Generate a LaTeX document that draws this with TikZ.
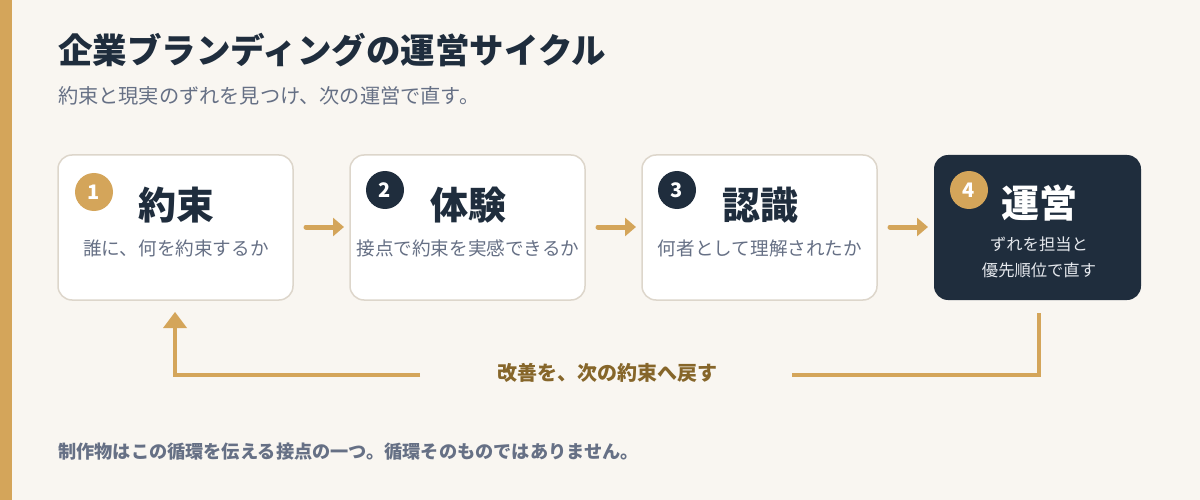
\documentclass[tikz,border=0pt]{standalone}
\usepackage{fontspec}
\setmainfont{Noto Sans CJK JP}
\newfontfamily\heavy{Noto Sans CJK JP Black}
\usetikzlibrary{arrows.meta}
\definecolor{bg}{HTML}{F9F6F1}
\definecolor{gold}{HTML}{D4A55A}
\definecolor{navy}{HTML}{1F2D3D}
\definecolor{txtgray}{HTML}{667085}
\definecolor{brd}{HTML}{DDD6CB}
\definecolor{brown}{HTML}{86662A}
\definecolor{lightw}{HTML}{E6E9EE}
\tikzset{
  card/.style={draw=brd, line width=1.5pt, fill=white, rounded corners=14pt},
  darkcard/.style={fill=navy, rounded corners=14pt},
  badge/.style={circle, minimum size=38pt, inner sep=0pt, text=white, font=\fontsize{20}{22}\selectfont\heavy},
  ctitle/.style={font=\fontsize{38}{42}\selectfont\heavy, text=navy, inner sep=0pt},
  csub/.style={font=\fontsize{18.6}{22}\selectfont, text=txtgray, inner sep=0pt},
  flow/.style={draw=gold, line width=5pt, line cap=round, -{Triangle[length=11pt,width=18pt]}},
  loop/.style={draw=gold, line width=4pt},
}
\begin{document}
\begin{tikzpicture}[x=1pt,y=-1pt]
\useasboundingbox (0,0) rectangle (1200,500);
\fill[bg] (0,0) rectangle (1200,500);
\fill[gold] (0,0) rectangle (12,500);
\node[anchor=west, inner sep=0pt, text=navy, font=\fontsize{34.5}{38}\selectfont\heavy] (title) at (58,50) {企業ブランディングの運営サイクル};
\node[anchor=west, inner sep=0pt, text=txtgray, font=\fontsize{20.2}{24}\selectfont] (subtitle) at (58,96) {約束と現実のずれを見つけ、次の運営で直す。};
% cards
\draw[card] (58,155) rectangle (293,300);
\draw[card] (350,155) rectangle (585,300);
\draw[card] (642,155) rectangle (877,300);
\fill[darkcard] (934,155) rectangle (1141,300);
% badges
\node[badge, fill=gold] (n1) at (94,192) {1};
\node[badge, fill=navy] (n2) at (385,190) {2};
\node[badge, fill=navy] (n3) at (677,190) {3};
\node[badge, fill=gold] (n4) at (969,190) {4};
% titles
\node[ctitle] (t1) at (176,205) {約束};
\node[ctitle] (t2) at (468,205) {体験};
\node[ctitle] (t3) at (760,205) {認識};
\node[ctitle, text=white] (t4) at (1039,203) {運営};
% subtexts
\node[csub] (s1) at (176,248) {誰に、何を約束するか};
\node[csub] (s2) at (468,248) {接点で約束を実感できるか};
\node[csub] (s3) at (760,248) {何者として理解されたか};
\node[csub, text=lightw, font=\fontsize{16.3}{20}\selectfont] (s4a) at (1039,244) {ずれを担当と};
\node[csub, text=lightw, font=\fontsize{16.3}{20}\selectfont] (s4b) at (1039,270) {優先順位で直す};
% flow arrows
\coordinate (a1s) at (306,227); \coordinate (a1e) at (344,227);
\coordinate (a2s) at (598,227); \coordinate (a2e) at (636,227);
\coordinate (a3s) at (890,227); \coordinate (a3e) at (928,227);
\draw[flow] (a1s) -- (a1e);
\draw[flow] (a2s) -- (a2e);
\draw[flow] (a3s) -- (a3e);
% loop
\node[inner sep=0pt, text=brown, font=\fontsize{20}{24}\selectfont\heavy] (lbl) at (607,373) {改善を、次の約束へ戻す};
\coordinate (l0) at (1039,313);
\coordinate (l1) at (1039,375);
\coordinate (l2) at (792,375);
\coordinate (l3) at (420,375);
\coordinate (l4) at (175,375);
\coordinate (l5) at (175,312);
\coordinate (l5b) at (175,327);
\draw[loop] (l0) -- (l1) -- (l2);
\draw[loop] (l3) -- (l4) -- (l5b);
\fill[gold] (l5) -- ++(-12,16) -- ++(24,0) -- cycle;
% footer
\node[anchor=west, inner sep=0pt, text=txtgray, font=\fontsize{18.2}{22}\selectfont\bfseries] (foot) at (58,452) {制作物はこの循環を伝える接点の一つ。循環そのものではありません。};
\end{tikzpicture}
\end{document}
